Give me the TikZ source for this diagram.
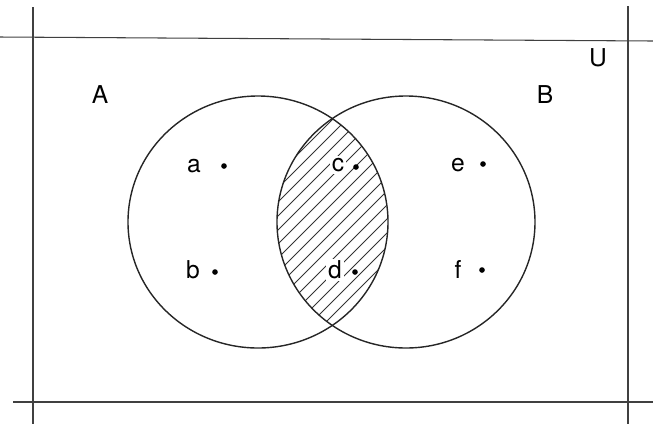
\documentclass[tikz,border=0pt]{standalone}
\usepackage{fontspec}
\setmainfont{TeX Gyre Heros}
\begin{document}
\begin{tikzpicture}[x=0.02cm, y=-0.02cm,
    every node/.style={font=\fontsize{14}{16}\selectfont},
    elem/.style={inner sep=1pt},
    dot/.style={circle, fill, inner sep=0pt, minimum size=3.2pt}]
  \useasboundingbox (0,0) rectangle (653,424);

  % frame of U
  \draw[black!75, line width=0.6pt] (0,37) -- (653,41);
  \draw[black!75, line width=0.6pt] (13,402) -- (653,402);
  \draw[black!75, line width=0.6pt] (33,7) -- (33,424);
  \draw[black!75, line width=0.6pt] (628,6) -- (628,424);

  % hatched intersection
  \begin{scope}
    \clip (258,222) ellipse [x radius=130, y radius=126];
    \clip (406,222) ellipse [x radius=129, y radius=126];
    \foreach \c in {382,396,...,740}
      \draw[black!80, line width=0.5pt] (\c-90,90) -- (\c-360,360);
  \end{scope}

  % sets
  \draw[black!85, line width=0.8pt] (258,222) ellipse [x radius=130, y radius=126];
  \draw[black!85, line width=0.8pt] (406,222) ellipse [x radius=129, y radius=126];

  % set names
  \node (U) at (598,58) {U};
  \node (A) at (100,95) {A};
  \node (B) at (545,95) {B};

  % elements
  \node[elem] (a) at (194,166) {a};
  \node[dot] (pa) at (224,166) {};
  \node[elem, fill=white] (c) at (338,165) {c};
  \node[dot] (pc) at (356,167) {};
  \node[elem] (e) at (458,165) {e};
  \node[dot] (pe) at (483,164) {};
  \node[elem] (b) at (193,270) {b};
  \node[dot] (pb) at (215,272) {};
  \node[elem, fill=white] (d) at (335,270) {d};
  \node[dot] (pd) at (355,272) {};
  \node[elem] (f) at (458,269) {f};
  \node[dot] (pf) at (482,270) {};
\end{tikzpicture}
\end{document}
